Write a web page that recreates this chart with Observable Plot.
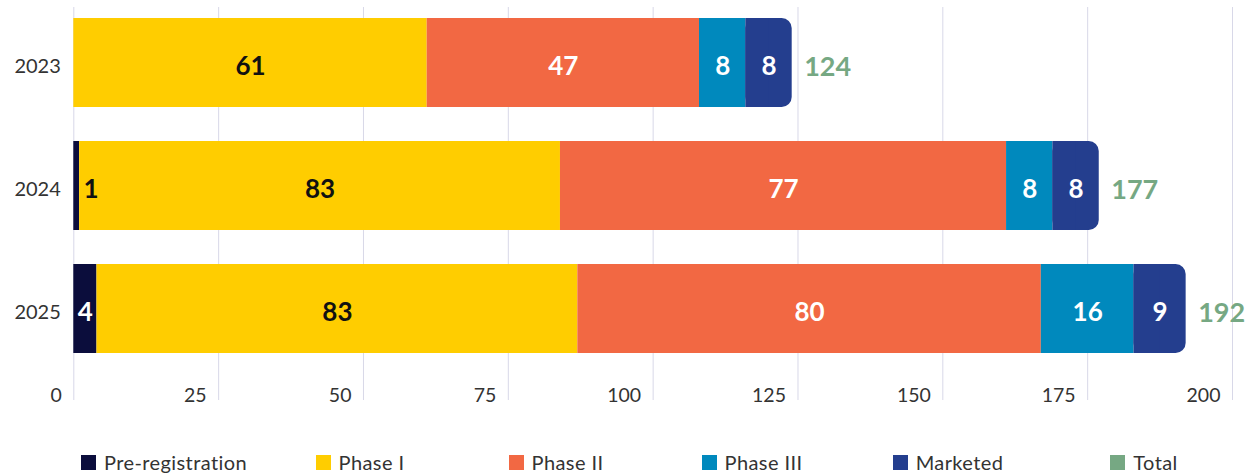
<!DOCTYPE html>
<html><head><meta charset="utf-8">
<script src="https://cdn.jsdelivr.net/npm/d3@7"></script>
<script src="https://cdn.jsdelivr.net/npm/@observablehq/plot@0.6"></script>
<style>
body{margin:0;background:#fff;font-family:Lato,sans-serif;}
#legend{display:grid;grid-template-columns:repeat(6,1fr);margin-left:66px;width:1176px;height:64px;align-items:center;}
.item{display:flex;justify-content:center;align-items:center;font-size:20px;letter-spacing:0.4px;color:#333;}
.sw{width:15px;height:15px;margin-right:8px;}
</style></head><body><div id="chart"></div><div id="legend"></div>
<script>
const years = ["2023", "2024", "2025"];
const stages = ["Pre-registration", "Phase I", "Phase II", "Phase III", "Marketed"];
const preRegistration = [0, 1, 4];
const phaseI = [61, 83, 83];
const phaseII = [47, 77, 80];
const phaseIII = [8, 8, 16];
const marketed = [8, 8, 9];
const totals = [124, 177, 192];
const xTicks = [0, 25, 50, 75, 100, 125, 150, 175, 200];
const stageColors = ["#0b0d3c", "#ffcd00", "#f26843", "#0089bd", "#243e8e"];
const labelColors = ["#ffffff", "#111111", "#ffffff", "#ffffff", "#ffffff"];
const totalColor = "#76a883";

const series = [preRegistration, phaseI, phaseII, phaseIII, marketed];
const rows = [];
years.forEach((year, i) => {
  let acc = 0;
  stages.forEach((stage, s) => {
    const v = series[s][i];
    if (v > 0) {
      rows.push({year, stage, s, value: v, x1: acc, x2: acc + v, mid: acc + v / 2, last: s === stages.length - 1});
    }
    acc += v;
  });
});
const totalRows = years.map((year, i) => ({year, total: totals[i]}));
const fits = d => d.value >= 3;

const chart = Plot.plot({
  width: 1250,
  height: 430,
  marginLeft: 73.3,
  marginRight: 18,
  marginTop: 7,
  marginBottom: 30,
  style: {fontFamily: "Lato, sans-serif", color: "#333", background: "#fff"},
  x: {domain: [0, 200], axis: null},
  y: {domain: years, range: [17.3, 353.3], paddingInner: 0.28, paddingOuter: 0, axis: null},
  color: {domain: stages, range: stageColors},
  marks: [
    Plot.gridX(xTicks, {stroke: "#d8d8e8", strokeOpacity: 1, strokeWidth: 1}),
    Plot.barX(rows.filter(d => !d.last), {x1: "x1", x2: "x2", y: "year", fill: "stage"}),
    Plot.barX(rows.filter(d => d.last), {x1: "x1", x2: "x2", y: "year", fill: "stage", rx: 10}),
    Plot.barX(rows.filter(d => d.last), {x1: "x1", x2: "mid", y: "year", fill: "stage"}),
    Plot.text(rows.filter(fits), {x: "mid", y: "year", text: d => String(d.value), fill: d => labelColors[d.s], fontSize: 26, fontWeight: 700, dy: 4}),
    Plot.text(rows.filter(d => !fits(d)), {x: "x2", y: "year", text: d => String(d.value), fill: "#111", fontSize: 26, fontWeight: 700, textAnchor: "start", dx: 4, dy: 4}),
    Plot.text(totalRows, {x: "total", y: "year", text: d => String(d.total), fill: totalColor, fontSize: 27, fontWeight: 700, textAnchor: "start", dx: 12, dy: 4}),
    Plot.axisY({tickSize: 0, tickPadding: 13, fontSize: 20, label: null, dy: 4}),
    Plot.axisX({ticks: xTicks, anchor: "bottom", tickSize: 0, tickPadding: 0, textAnchor: "end", dx: -12, dy: -12, fontSize: 19.5, label: null})
  ]
});
document.getElementById("chart").appendChild(chart);

const legendItems = [...stages, "Total"];
const legendColors = [...stageColors, totalColor];
const legend = document.getElementById("legend");
legendItems.forEach((name, i) => {
  const item = document.createElement("div");
  item.className = "item";
  const sw = document.createElement("span");
  sw.className = "sw";
  sw.style.background = legendColors[i];
  const label = document.createElement("span");
  label.textContent = name;
  item.appendChild(sw);
  item.appendChild(label);
  legend.appendChild(item);
});
</script></body></html>
